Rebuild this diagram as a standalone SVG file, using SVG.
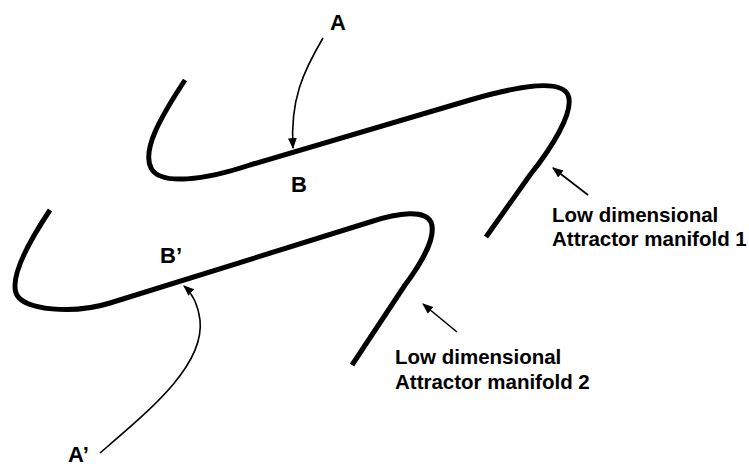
<svg xmlns="http://www.w3.org/2000/svg" width="749" height="469" viewBox="0 0 749 469">
<style>
.manifold{fill:none;stroke:#000;stroke-width:5;stroke-linecap:butt;stroke-linejoin:round}
.arrow{fill:none;stroke:#000;stroke-width:1.6}
.lbl{font-family:"Liberation Sans",Arial,sans-serif;font-weight:bold;fill:#000}
.big{font-size:22px}
.small{font-size:20.5px}
</style>
<defs>
<marker id="ah" viewBox="0 0 10 10" refX="9" refY="5" markerWidth="11" markerHeight="11" markerUnits="userSpaceOnUse" orient="auto">
<path d="M0,1 L10,5 L0,9 z" fill="#000"/>
</marker>
</defs>
<rect width="749" height="469" fill="#fff"/>
<g id="manifold1">
<path class="manifold" d="M185,80 C160,118 142,150 151,168 C160,186 205,180 250,165 L470,100 C515,87 560,78 568,95 C575,112 550,150 530,175 L486,237"/>
</g>
<g id="manifold2">
<path class="manifold" d="M50,210 C30,240 10,275 16,293 C22,311 75,314 110,303 L370,222 C400,212 425,210 431,222 C437,237 420,265 405,285 L352,365"/>
</g>
<g id="connectors">
<path class="arrow" d="M323,38 C303,72 290,100 293,148" marker-end="url(#ah)"/>
<path class="arrow" d="M100,453 C150,410 205,365 200,320 C198,305 193,294 184,286" marker-end="url(#ah)"/>
<path class="arrow" d="M588,195 L553,168" marker-end="url(#ah)"/>
<path class="arrow" d="M457,332 L423,304" marker-end="url(#ah)"/>
</g>
<g id="labelA"><text class="lbl big" x="338" y="30" text-anchor="middle">A</text></g>
<g id="labelB"><text class="lbl big" x="299" y="192" text-anchor="middle">B</text></g>
<g id="labelB2"><text class="lbl big" x="160" y="263">B’</text></g>
<g id="labelA2"><text class="lbl big" x="68" y="462">A’</text></g>
<g id="label-m1">
<text class="lbl small" x="552" y="222">Low dimensional</text>
<text class="lbl small" x="552" y="246">Attractor manifold 1</text>
</g>
<g id="label-m2">
<text class="lbl small" x="395" y="364">Low dimensional</text>
<text class="lbl small" x="395" y="389">Attractor manifold 2</text>
</g>
</svg>
